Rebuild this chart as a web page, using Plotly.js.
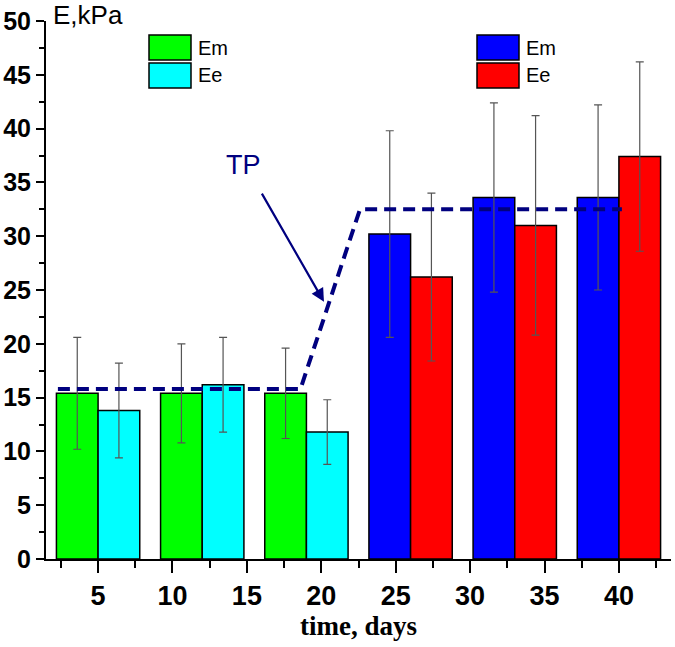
<!DOCTYPE html>
<html>
<head>
<meta charset="utf-8">
<script src="https://cdn.plot.ly/plotly-3.0.1.min.js"></script>
<style>html,body{margin:0;padding:0;background:#fff;}#chart{width:675px;height:647px;}</style>
</head>
<body>
<div id="chart"></div>
<script>
// ---- data ----
const xEarly = [5, 12, 19];
const xLate = [26, 33, 40];
const emEarly = [15.4, 15.4, 15.4];
const emEarlyErr = [5.2, 4.6, 4.2];
const eeEarly = [13.8, 16.2, 11.8];
const eeEarlyErr = [4.4, 4.4, 3.0];
const emLate = [30.2, 33.6, 33.6];
const emLateErr = [9.6, 8.8, 8.6];
const eeLate = [26.2, 31.0, 37.4];
const eeLateErr = [7.8, 10.2, 8.8];
const tpX = [2.3, 18.6, 22.6, 40.2];
const tpY = [15.8, 15.8, 32.5, 32.5];
const xTickVals = [5, 10, 15, 20, 25, 30, 35, 40];
const seriesNames = ['Em', 'Ee', 'Em', 'Ee'];
const seriesColors = ['#00ff00', '#00ffff', '#0000ff', '#ff0000'];

const BW = 2.8;
const xTickFont = {family: 'Liberation Sans, Arial, sans-serif', size: 27, color: '#000', weight: 'bold'};
const yTickFont = {family: 'Liberation Sans, Arial, sans-serif', size: 25, color: '#000', weight: 'bold'};

function barTrace(x, y, err, idx, offset) {
  return {
    type: 'bar', x: x, y: y, name: seriesNames[idx], width: BW, offset: offset,
    marker: {color: seriesColors[idx], line: {color: '#000', width: 1.5}},
    error_y: {type: 'data', array: err, visible: true, color: '#555', thickness: 1.2, width: 4},
    showlegend: false, hoverinfo: 'x+y'
  };
}

const traces = [
  barTrace(xEarly, emEarly, emEarlyErr, 0, -BW),
  barTrace(xEarly, eeEarly, eeEarlyErr, 1, 0),
  barTrace(xLate, emLate, emLateErr, 2, -BW),
  barTrace(xLate, eeLate, eeLateErr, 3, 0),
  {type: 'scatter', mode: 'lines', x: tpX, y: tpY, name: 'TP',
   line: {color: '#00007f', width: 4, dash: '12px,7px'}, showlegend: false}
];

// custom legends (two boxes) built from series names/colours
const legendPos = [[149, 35], [149, 63], [477, 35], [477, 63]];
const shapes = [];
const annotations = [];
legendPos.forEach((p, i) => {
  shapes.push({type: 'rect', xref: 'paper', yref: 'paper',
    x0: (p[0] - 46) / 625, x1: (p[0] + 42 - 46) / 625,
    y0: 1 - (p[1] + 25 - 21) / 538, y1: 1 - (p[1] - 21) / 538,
    fillcolor: seriesColors[i], line: {color: '#000', width: 1.5}});
  annotations.push({xref: 'paper', yref: 'paper', x: (p[0] + 47 - 46) / 625, y: 1 - (p[1] + 12.5 - 21) / 538,
    xanchor: 'left', yanchor: 'middle', showarrow: false, text: seriesNames[i],
    font: {family: 'Liberation Sans, Arial, sans-serif', size: 20, color: '#000'}});
});
annotations.push({xref: 'paper', yref: 'paper', x: 5 / 625, y: 1 + 6 / 538, xanchor: 'left', yanchor: 'middle',
  showarrow: false, text: 'E,kPa', font: {family: 'Liberation Sans, Arial, sans-serif', size: 26, color: '#000'}});
annotations.push({x: 14.74, y: 36.6, xref: 'x', yref: 'y', showarrow: false, text: 'TP',
  font: {family: 'Liberation Sans, Arial, sans-serif', size: 27, color: '#00007f'}});
annotations.push({x: 20.18, y: 23.9, ax: 15.95, ay: 34.1, xref: 'x', yref: 'y', axref: 'x', ayref: 'y',
  text: '', showarrow: true, arrowhead: 2, arrowsize: 1.2, arrowwidth: 2.2, arrowcolor: '#00007f'});

const layout = {
  width: 675, height: 647,
  margin: {l: 46, r: 4, t: 21, b: 88},
  paper_bgcolor: '#fff', plot_bgcolor: '#fff',
  barmode: 'overlay',
  showlegend: false,
  xaxis: {
    range: [1.5, 43.5], tickmode: 'array', tickvals: xTickVals, ticktext: xTickVals.map(String),
    ticks: 'outside', ticklen: 12, tickwidth: 2, tickcolor: '#000',
    showline: true, linecolor: '#000', linewidth: 2, showgrid: false, zeroline: false,
    tickfont: xTickFont, ticklabelstandoff: 0,
    minor: {tickmode: 'array', tickvals: [2.5, 7.5, 12.5, 17.5, 22.5, 27.5, 32.5, 37.5, 42.5], ticks: 'outside', ticklen: 7, tickwidth: 2, tickcolor: '#000'},
    title: {text: 'time, days', font: {family: 'Liberation Serif, Times New Roman, serif', size: 27, color: '#000', weight: 'bold'}, standoff: 6}
  },
  yaxis: {
    range: [0, 50], dtick: 5, tick0: 0,
    ticks: 'outside', ticklen: 8, tickwidth: 2, tickcolor: '#000',
    showline: true, linecolor: '#000', linewidth: 2, showgrid: false, zeroline: false,
    tickfont: yTickFont, ticklabelstandoff: 0,
    minor: {dtick: 2.5, ticks: 'outside', ticklen: 5, tickwidth: 2, tickcolor: '#000'}
  },
  shapes: shapes,
  annotations: annotations
};

Plotly.newPlot('chart', traces, layout, {displayModeBar: false, staticPlot: true});
</script>
</body>
</html>
